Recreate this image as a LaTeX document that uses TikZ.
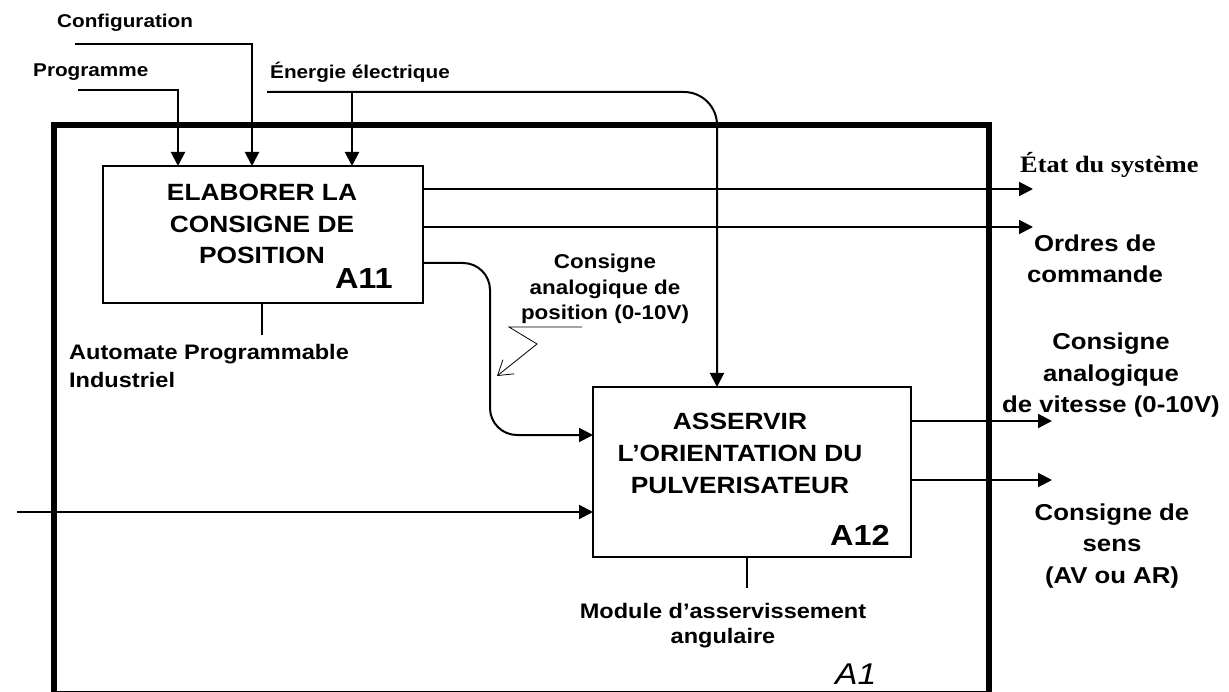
\documentclass[tikz,border=0pt]{standalone}
\usepackage{fontspec}
\setmainfont{Liberation Sans}[FakeStretch=1.12]
\newfontfamily\seriffont{Liberation Serif}[FakeStretch=1.12]
\usetikzlibrary{arrows.meta}
\tikzset{
	fonction/.style={draw, line width=2.5pt, inner sep=0pt, outer sep=0pt},
	titre/.style={align=center, inner sep=0pt, anchor=base, font=\fontsize{23.5}{31.5}\selectfont\bfseries},
	code/.style={inner sep=0pt, anchor=base east, font=\fontsize{29}{30}\selectfont\bfseries},
	flux/.style={inner sep=0pt, anchor=base west, font=\fontsize{18.5}{20}\selectfont\bfseries},
	support/.style={inner sep=0pt, anchor=base, font=\fontsize{21}{26}\selectfont\bfseries},
	sortie/.style={align=center, inner sep=0pt, anchor=base, font=\fontsize{23}{31.5}\selectfont\bfseries},
	fleche/.style={line width=2pt, -{Triangle[length=14pt,width=14pt]}},
	trait/.style={line width=1.5pt}
}
\begin{document}
\begin{tikzpicture}[x=1pt, y=-1pt]
	\useasboundingbox (0,0) rectangle (1229,692);
	% cadre A1
	\draw[line width=5.5pt] (54,125) rectangle (989,694);
	\node[inner sep=0pt, anchor=base west, font=\fontsize{30}{30}\selectfont\itshape] (nomA1) at (835,684) {A1};

	% boites
	\node[fonction, minimum width=320, minimum height=137] (A11) at (263,234.5) {};
	\node[fonction, minimum width=318, minimum height=170] (A12) at (752,472) {};
	\node[titre] (tA11) at (262,264) {ELABORER LA\\CONSIGNE DE\\POSITION};
	\node[code] (cA11) at (393,289) {A11};
	\node[titre] (tA12) at (740,493) {ASSERVIR\\L’ORIENTATION DU\\PULVERISATEUR};
	\node[code] (cA12) at (890,545) {A12};

	% entrees de controle
	\node[flux] (lconf) at (57,28) {Configuration};
	\node[flux] (lprog) at (33,77) {Programme};
	\node[flux] (lener) at (270,79) {Énergie électrique};
	\coordinate (conf) at (75,44);
	\coordinate (prog) at (78,90);
	\coordinate (ener) at (267,92);
	\draw[fleche] (prog) -| ([xshift=75pt]A11.north west);
	\draw[fleche] (conf) -| ([xshift=149pt]A11.north west);
	\draw[fleche, rounded corners=33pt] (ener) -| ([xshift=-35pt]A12.north);
	\draw[fleche] ([xshift=249pt]A11.north west |- ener) -- ([xshift=249pt]A11.north west);

	% sorties
	\coordinate (etat) at (1033,189);
	\coordinate (ordres) at (1033,227);
	\coordinate (vitesse) at (1052,421);
	\coordinate (sens) at (1052,480);
	\coordinate (entree) at (17,512);
	\draw[fleche] ([yshift=-23pt]A11.north east) -- (etat);
	\draw[fleche] ([yshift=-61pt]A11.north east) -- (ordres);
	\draw[fleche, rounded corners=27pt] ([yshift=-97pt]A11.north east) -- ++(67,0) |- ([yshift=-48pt]A12.north west);
	\draw[fleche] ([yshift=-34pt]A12.north east) -- (vitesse);
	\draw[fleche] ([yshift=-93pt]A12.north east) -- (sens);
	\draw[fleche] (entree) -- (entree -| A12.west);
	\node[inner sep=0pt, anchor=base west, font=\fontsize{23.5}{30}\selectfont\seriffont\bfseries] (letat) at (1020,173) {État du système};
	\node[sortie] (lordres) at (1095,283) {Ordres de\\commande};
	\node[sortie] (lvitesse) at (1111,413) {Consigne\\analogique\\de vitesse (0-10V)};
	\node[sortie] (lsens) at (1112,583) {Consigne de\\sens\\(AV ou AR)};

	% consigne de position
	\node[support, align=center, font=\fontsize{20}{25.5}\selectfont\bfseries] (lpos) at (605,320) {Consigne\\analogique de\\position (0-10V)};
	\coordinate (z1) at (582,327);
	\coordinate (z2) at (509,327);
	\coordinate (z3) at (537,344);
	\coordinate (z4) at (497,376);
	\draw[line width=0.8pt, -{Straight Barb[length=14pt,width=18pt]}] (z1) -- (z2) -- (z3) -- (z4);

	% supports
	\coordinate (m11) at (262,335);
	\coordinate (m12) at (747,588);
	\draw[trait] (A11.south -| m11) -- (m11);
	\draw[trait] (A12.south -| m12) -- (m12);
	\node[support, anchor=base west, align=left, font=\fontsize{21}{28}\selectfont\bfseries] (lapi) at (69,388) {Automate Programmable\\Industriel};
	\node[support, align=center, font=\fontsize{21}{25}\selectfont\bfseries] (lmod) at (723,643) {Module d’asservissement\\angulaire};
\end{tikzpicture}
\end{document}
